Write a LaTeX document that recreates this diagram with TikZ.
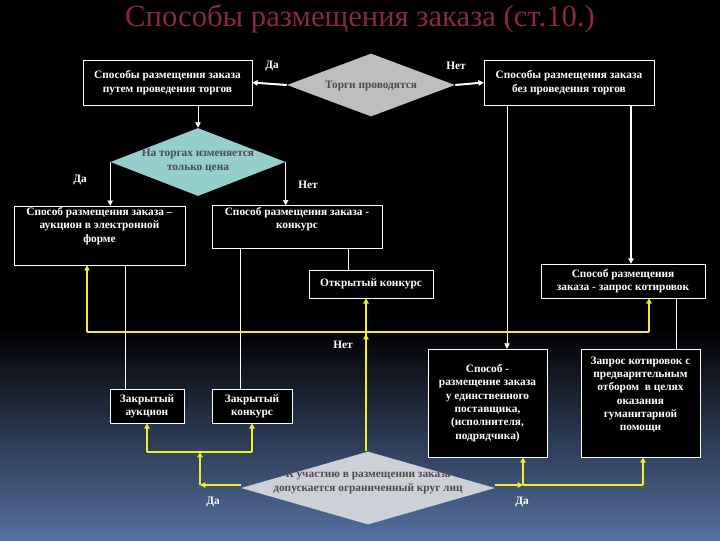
\documentclass[tikz,border=0pt]{standalone}
\usepackage{fontspec}
\setmainfont{Liberation Serif}
\usetikzlibrary{shapes.geometric,arrows.meta}
\definecolor{bgblue}{RGB}{85,112,160}
\definecolor{ttl}{RGB}{135,40,70}
\definecolor{yel}{RGB}{240,240,40}
\definecolor{dgrey}{RGB}{190,190,190}
\definecolor{teal}{RGB}{150,205,205}
\definecolor{lgrey}{RGB}{205,208,215}
\begin{document}
\begin{tikzpicture}[x=0.75pt,y=-0.75pt,
  box/.style={draw=white,fill=black,text=white,font=\bfseries\fontsize{8.5}{10}\selectfont,align=center,inner sep=1pt},
  dia/.style={diamond,inner sep=0pt},
  dtxt/.style={font=\bfseries\fontsize{8.5}{10}\selectfont,text=black!70,align=center},
  lab/.style={text=white,font=\bfseries\fontsize{8.5}{10}\selectfont},
  wthick/.style={white,line width=1.5pt,-{Triangle[length=4pt,width=4pt]}},
  wthin/.style={white,line width=0.5pt},
  warr/.style={white,line width=0.5pt,-{Triangle[length=4pt,width=4pt]}},
  yl/.style={yel,line width=1pt},
  yarr/.style={yel,line width=1pt,-{Triangle[length=4pt,width=4pt]}}]
\useasboundingbox (0,0) rectangle (720,540);
\fill[black] (0,0) rectangle (720,330);
\shade[top color=black,bottom color=bgblue] (0,329) rectangle (720,540);
\node[text=ttl,font=\fontsize{23}{27}\selectfont] (t) at (360,19) {Способы размещения заказа (ст.10.)};
% boxes
\node[box,minimum width=126.75pt,minimum height=33.75pt] (a) at (167.5,82.5) {Способы размещения заказа\\путем проведения торгов};
\node[box,minimum width=127.5pt,minimum height=33.75pt] (b) at (569,82.5) {Способы размещения заказа\\без проведения торгов};
\node[box,minimum width=128.25pt,minimum height=42.75pt,text depth=16pt] (c) at (99.5,235.5) {Способ размещения заказа –\\аукцион в электронной\\форме};
\node[box,minimum width=127.5pt,minimum height=30pt] (d) at (297,227) {Способ размещения заказа -\\конкурс\\[4pt]};
\node[box,minimum width=93pt,minimum height=21pt] (e) at (371,284) {Открытый конкурс};
\node[box,minimum width=123pt,minimum height=25.5pt] (f) at (623,281) {Способ размещения\\заказа - запрос котировок};
\node[box,minimum width=89.25pt,minimum height=81pt] (g) at (487.5,403) {Способ -\\размещение заказа\\у единственного\\поставщика,\\(исполнителя,\\подрядчика)};
\node[box,minimum width=89.25pt,minimum height=81pt] (h) at (640.5,403) {Запрос котировок с\\предварительным\\отбором \ в целях\\оказания\\гуманитарной\\помощи\\[4pt]};
\node[box,minimum width=55.5pt,minimum height=25.5pt] (i) at (147,406) {Закрытый\\аукцион};
\node[box,minimum width=60pt,minimum height=25.5pt] (j) at (252,406) {Закрытый\\конкурс};
% diamonds
\node[dia,fill=dgrey,minimum width=126pt,minimum height=47.25pt] (d1) at (371,85) {};
\node[dtxt] at (371,86) {Торги проводятся};
\node[dia,fill=teal,minimum width=131.25pt,minimum height=51pt] (d2) at (198,162) {};
\node[dtxt,anchor=south] at (198,177) {На торгах изменяется\\только цена};
\node[dia,fill=lgrey,minimum width=190.5pt,minimum height=54.75pt] (d3) at (368,488) {};
\node[dtxt] at (368,482) {К участию в размещении заказа\\допускается ограниченный круг лиц};
% labels
\node[lab] at (272,66) {Да};
\node[lab] at (456,66) {Нет};
\node[lab] at (80,180) {Да};
\node[lab] at (308,185) {Нет};
\node[lab] at (343,345) {Нет};
\node[lab] at (213,502) {Да};
\node[lab] at (522,502) {Да};
% top connectors
\draw[wthick] (d1.west) -- (a.east);
\draw[wthick] (d1.east) -- (b.west);
\draw[warr] (d2.north |- a.south) -- (d2.north);
\draw[warr] (d2.west) -- (d2.west |- c.north);
\draw[warr] (d2.east) -- (d2.east |- d.north);
\draw[wthick] (b.south -| 631,0) -- (f.north -| 631,0);
\draw[warr] (b.south -| 507,0) -- (g.north -| 507,0);
\draw[wthin] (d.south -| 348,0) -- (e.north -| 348,0);
\draw[wthin] (c.south -| 125,0) -- (i.north -| 125,0);
\draw[wthin] (d.south -| 240,0) -- (j.north -| 240,0);
\draw[wthin] (f.south -| 676,0) -- (h.north -| 676,0);
% yellow
\coordinate (yl) at (87,332);
\coordinate (yr) at (649,332);
\draw[yl] (yl) -- (yr);
\draw[yarr] (yl) -- (yl |- c.south);
\draw[yarr] (yr) -- (yr |- f.south);
\draw[yarr] (d3.north -| 366,0) -- (e.south -| 366,0);
\draw[yarr] (d3.north -| 366,0) -- (366,334);
\coordinate (ljn) at (200,485);
\coordinate (lh) at (200,452);
\draw[yarr] (d3.west |- ljn) -- (ljn);
\draw[yarr,line width=1.5pt] (ljn) -- (lh);
\draw[yl] (lh -| i.south) -- (lh -| j.south);
\draw[yarr] (lh -| i.south) -- (i.south);
\draw[yarr] (lh -| j.south) -- (j.south);
\coordinate (rjn) at (523,485);
\draw[yarr] (d3.east |- rjn) -- (rjn);
\draw[yl] (rjn) -- (rjn -| 643,0);
\draw[yarr] (rjn) -- (rjn |- g.south);
\draw[yarr] (rjn -| 643,0) -- (h.south -| 643,0);
\end{tikzpicture}
\end{document}
